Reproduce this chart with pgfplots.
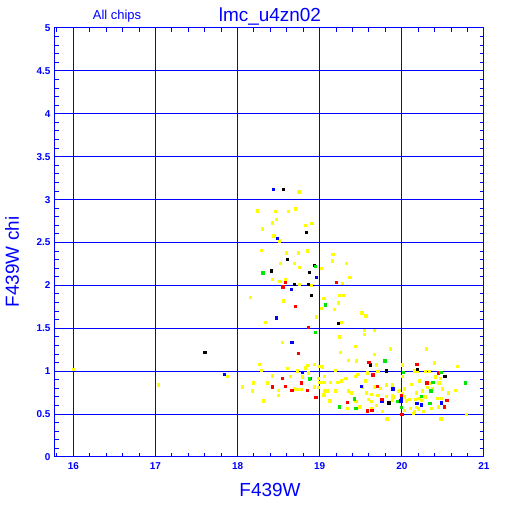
\documentclass[border=0pt]{standalone}
\usepackage{pgfplots}
\usepackage{pgfplotstable}
\pgfplotsset{compat=1.18}
\usepackage{fontspec}
\setmainfont{Liberation Sans}
\definecolor{pblue}{RGB}{0,0,255}
\definecolor{pyel}{RGB}{255,255,0}
\definecolor{pgreen}{RGB}{0,230,0}
\definecolor{pred}{RGB}{255,0,0}

\pgfplotstableread{
x y
18.744 3.092
18.237 2.871
18.456 2.867
18.618 2.867
18.700 2.894
18.472 2.774
18.423 2.731
18.902 2.724
18.822 2.704
18.301 2.661
18.439 2.579
18.502 2.521
18.285 2.413
18.594 2.381
18.740 2.381
18.850 2.404
19.159 2.366
18.521 2.261
18.691 2.261
19.155 2.288
19.326 2.261
18.752 2.214
19.017 2.203
19.366 2.098
18.423 2.075
18.512 2.051
18.578 2.075
18.752 2.016
18.892 2.005
19.277 2.028
18.155 1.865
18.557 1.822
19.049 1.853
19.237 1.888
19.285 1.888
19.224 1.798
19.017 1.737
19.179 1.721
19.512 1.682
19.561 1.647
18.960 1.635
18.338 1.573
19.261 1.573
19.667 1.480
19.545 1.480
19.545 1.434
19.237 1.402
18.545 1.340
19.432 1.294
19.659 1.200
19.862 1.262
20.301 1.262
19.252 1.224
19.346 1.131
19.448 1.122
20.390 1.099
20.676 1.061
18.261 1.084
18.285 1.014
18.602 1.037
18.724 1.006
18.854 1.072
18.935 1.080
18.993 1.061
19.033 1.052
18.822 1.041
19.188 1.014
19.691 1.076
20.009 1.076
17.871 0.944
18.862 0.983
18.423 0.947
18.643 0.944
18.789 0.936
18.984 0.921
19.057 0.944
19.317 0.921
19.261 0.889
19.463 0.967
19.432 0.944
19.707 0.999
19.578 0.983
20.155 1.006
20.188 0.999
20.285 0.999
20.334 0.999
20.407 0.936
20.463 0.921
20.009 0.944
18.188 0.866
18.359 0.866
19.000 0.874
19.130 0.874
19.220 0.874
19.049 0.874
19.554 0.889
18.057 0.819
18.496 0.781
18.691 0.796
18.724 0.789
18.773 0.789
18.935 0.819
18.984 0.812
19.057 0.773
19.090 0.773
19.188 0.781
19.350 0.773
18.179 0.773
18.496 0.723
19.049 0.723
19.521 0.819
19.740 0.804
19.813 0.843
19.887 0.851
19.659 0.819
19.968 0.781
19.383 0.749
19.570 0.749
19.627 0.734
19.707 0.719
19.813 0.711
19.878 0.719
19.041 0.734
19.191 0.769
19.594 0.672
19.627 0.649
19.878 0.688
19.887 0.664
19.122 0.656
19.439 0.649
18.310 0.656
19.691 0.603
19.488 0.586
19.334 0.571
19.634 0.563
19.756 0.533
19.822 0.446
20.212 0.889
20.341 0.859
20.448 0.866
20.115 0.851
19.887 0.819
20.310 0.812
20.366 0.796
20.033 0.796
19.960 0.766
20.496 0.796
20.651 0.781
20.561 0.749
20.171 0.749
20.252 0.773
20.009 0.742
20.033 0.703
20.204 0.688
20.277 0.703
20.432 0.688
20.480 0.688
19.895 0.703
20.163 0.672
20.090 0.672
20.057 0.656
20.237 0.664
20.179 0.579
20.195 0.563
20.106 0.571
20.359 0.571
20.439 0.586
20.033 0.548
20.261 0.533
20.146 0.533
20.139 0.509
20.780 0.501
20.472 0.446
19.805 0.439
17.033 0.843
16.000 1.026
}\yellowdata

\pgfplotstableread{
x y
18.432 3.124
18.484 2.552
18.960 2.098
18.651 1.958
18.472 1.624
18.659 1.340
17.838 0.967
18.789 0.991
19.505 0.828
19.887 0.796
19.756 0.649
19.993 0.703
19.984 0.656
20.480 0.633
20.179 0.626
20.237 0.610
}\bluedata

\pgfplotstableread{
x y
18.557 3.124
18.834 2.622
18.606 2.308
18.932 2.238
18.407 2.171
18.874 2.153
18.691 2.016
18.862 2.016
18.899 1.888
19.228 1.562
17.602 1.220
19.618 1.076
19.813 1.006
20.188 1.022
20.521 0.944
19.838 0.633
}\blackdata

\pgfplotstableread{
x y
18.582 2.040
19.204 2.040
18.549 1.985
18.704 1.760
18.862 1.515
18.740 1.212
18.545 0.921
18.887 0.921
18.423 0.819
18.582 0.828
18.659 0.781
18.846 0.781
18.773 0.866
18.951 0.696
19.594 1.107
19.643 0.959
19.700 0.828
19.756 0.672
19.334 0.641
19.634 0.548
19.578 0.540
20.179 1.084
20.439 0.983
20.301 0.866
19.993 0.719
20.545 0.664
20.512 0.586
20.000 0.501
}\reddata

\pgfplotstableread{
x y
18.305 2.148
18.944 2.223
19.070 1.775
18.948 1.457
18.871 0.913
19.789 1.122
19.423 0.680
19.237 0.586
19.439 0.571
19.944 0.649
20.017 0.991
20.472 0.991
20.374 0.874
20.350 0.773
20.773 0.866
20.237 0.711
20.341 0.626
19.993 0.579
}\greendata

\begin{document}
\begin{tikzpicture}[x=1bp,y=1bp]
\path[use as bounding box] (0,0) rectangle (512,512);
\begin{axis}[
  at={(55bp,55bp)}, anchor=south west,
  scale only axis, width=429bp, height=429bp,
  xmin=15.777, xmax=21.0, ymin=0, ymax=5,
  axis line style={pblue, line width=1bp},
  grid=major, major grid style={pblue, line width=1bp},
  xtick={16,17,18,19,20,21}, ytick={0,0.5,...,5},
  yticklabels={0,0.5,1,1.5,2,2.5,3,3.5,4,4.5,5},
  minor xtick={15.8,16.2,16.4,16.6,16.8,17.2,17.4,17.6,17.8,18.2,18.4,18.6,18.8,19.2,19.4,19.6,19.8,20.2,20.4,20.6,20.8},
  minor ytick={0.1,0.2,0.3,0.4,0.6,0.7,0.8,0.9,1.1,1.2,1.3,1.4,1.6,1.7,1.8,1.9,2.1,2.2,2.3,2.4,2.6,2.7,2.8,2.9,3.1,3.2,3.3,3.4,3.6,3.7,3.8,3.9,4.1,4.2,4.3,4.4,4.6,4.7,4.8,4.9},
  tick align=inside, major tick length=0pt, minor tick length=4bp,
  every tick/.style={pblue, line width=1bp},
  minor grid style={draw=none},
  /pgf/number format/assume math mode=true,
  ticklabel style={font=\fontsize{10}{10}\selectfont\bfseries, text=pblue},
  xticklabel style={yshift=-2bp},
  yticklabel style={xshift=-1bp},
  clip=false,
  scatter/use mapped color={draw=black, fill=black},
]
\addplot[only marks, mark=square*, mark size=1.1bp, draw=pyel, fill=pyel] table[x=x,y=y] {\yellowdata};
\addplot[only marks, mark=square*, mark size=1.2bp, draw=pblue, fill=pblue] table[x=x,y=y] {\bluedata};
\addplot[only marks, mark=square*, mark size=1.2bp, draw=black, fill=black] table[x=x,y=y] {\blackdata};
\addplot[only marks, mark=square*, mark size=1.2bp, draw=pred, fill=pred] table[x=x,y=y] {\reddata};
\addplot[only marks, mark=square*, mark size=1.2bp, draw=pgreen, fill=pgreen] table[x=x,y=y] {\greendata};
\draw[pblue, line width=1bp] (rel axis cs:1,0) ++(2bp,0) -- ++(0,429bp);
\end{axis}
\node[text=pblue, font=\fontsize{13}{13}\selectfont] at (117,496) {All chips};
\node[text=pblue, font=\fontsize{19}{19}\selectfont] at (270,495) {lmc\_u4zn02};
\node[text=pblue, font=\fontsize{19}{19}\selectfont] at (270,22) {F439W};
\node[text=pblue, font=\fontsize{19}{19}\selectfont, rotate=90] at (12,250) {F439W chi};
\end{tikzpicture}
\end{document}
